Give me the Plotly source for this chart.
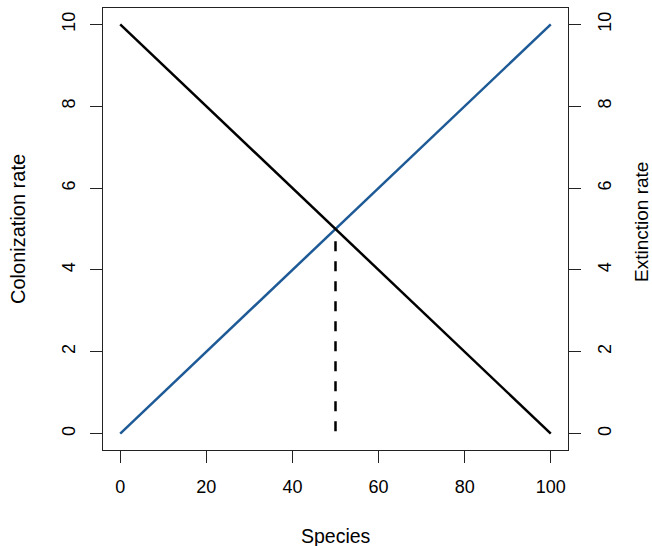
import plotly.graph_objects as go

species = [0, 100]
colonization = [0, 10]
extinction = [10, 0]
eq_x = [50, 50]
eq_y = [4.7, 0]
xticks = [0, 20, 40, 60, 80, 100]
yticks = [0, 2, 4, 6, 8, 10]

FONT = "Liberation Sans, Arial, sans-serif"
fig = go.Figure()
fig.add_trace(go.Scatter(x=species, y=colonization, mode="lines",
                         line=dict(color="#1d5a96", width=2.5), showlegend=False))
fig.add_trace(go.Scatter(x=species, y=extinction, mode="lines",
                         line=dict(color="black", width=2.5), showlegend=False))
fig.add_trace(go.Scatter(x=eq_x, y=eq_y, mode="lines",
                         line=dict(color="black", width=2.5, dash="10px,10px"), showlegend=False))
fig.add_trace(go.Scatter(x=species, y=extinction, mode="lines", yaxis="y2",
                         line=dict(color="rgba(0,0,0,0)", width=0), showlegend=False, hoverinfo="skip"))

axis_common = dict(showgrid=False, zeroline=False, showline=True, linecolor="#222",
                   linewidth=1, ticks="outside", ticklen=12, tickcolor="#222", tickwidth=1,
                   tickfont=dict(family=FONT, size=18, color="black"))
fig.update_layout(
    width=652, height=546,
    margin=dict(l=103, r=84, t=8, b=96),
    paper_bgcolor="white", plot_bgcolor="white",
    xaxis=dict(range=[-4, 104], tickvals=xticks, mirror=True, ticklabelstandoff=8, **axis_common),
    yaxis=dict(range=[-0.4, 10.4], tickvals=yticks, tickangle=-90, ticklabelstandoff=8, **axis_common),
    yaxis2=dict(range=[-0.4, 10.4], tickvals=yticks, tickangle=-90, overlaying="y", side="right",
                ticklabelstandoff=8, **axis_common),
    annotations=[
        dict(text="Species", xref="paper", yref="paper", x=0.5, y=0, yshift=-86,
             showarrow=False, font=dict(family=FONT, size=19.5, color="black"), yanchor="middle"),
        dict(text="Colonization rate", xref="paper", yref="paper", x=0, y=0.5, xshift=-85,
             showarrow=False, textangle=-90, font=dict(family=FONT, size=20, color="black"), xanchor="center"),
        dict(text="Extinction rate", xref="paper", yref="paper", x=1, y=0.5, xshift=73, yshift=7,
             showarrow=False, textangle=-90, font=dict(family=FONT, size=19, color="black"), xanchor="center"),
    ],
)
fig.write_html("out.html")
